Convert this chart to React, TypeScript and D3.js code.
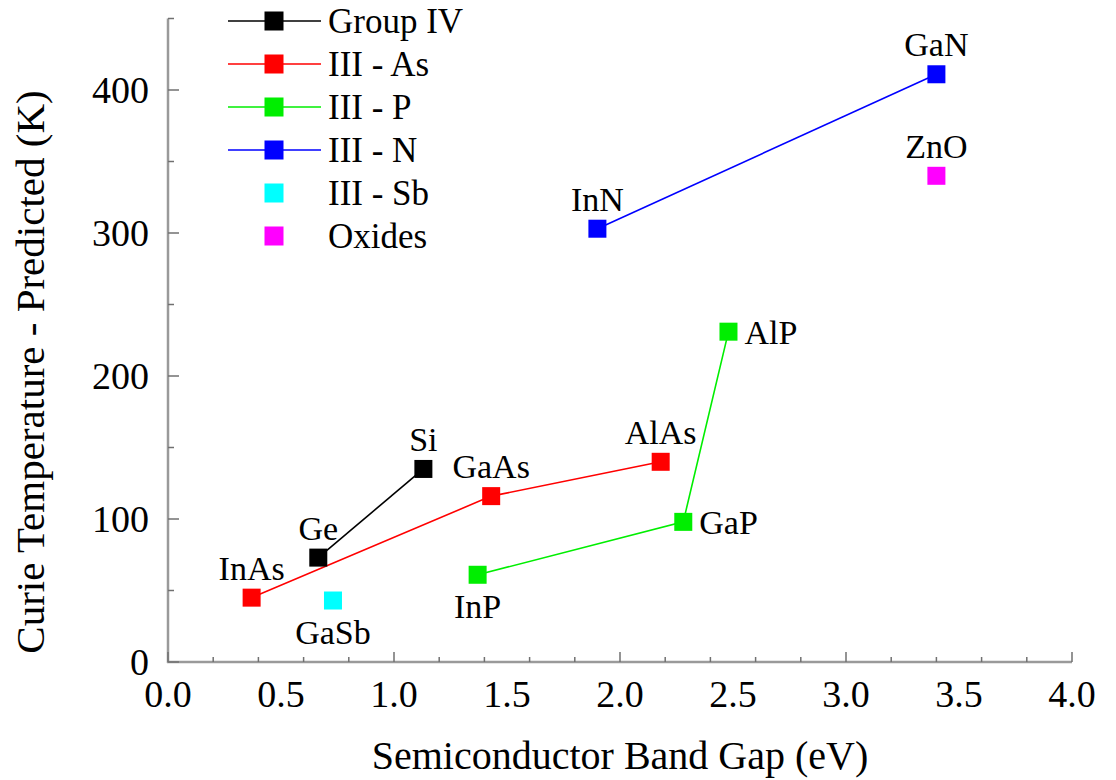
import React from "react";
import * as d3 from "d3";

// Band gap (eV) and predicted Curie temperature (K) per compound, grouped by family
const groupIVNames = ["Ge", "Si"];
const groupIVGap = [0.665, 1.13];
const groupIVTc = [73, 135];

const asNames = ["InAs", "GaAs", "AlAs"];
const asGap = [0.37, 1.43, 2.18];
const asTc = [45, 116, 140];

const pNames = ["InP", "GaP", "AlP"];
const pGap = [1.37, 2.28, 2.48];
const pTc = [61, 98, 231];

const nNames = ["InN", "GaN"];
const nGap = [1.9, 3.4];
const nTc = [303, 411];

const sbNames = ["GaSb"];
const sbGap = [0.73];
const sbTc = [43];

const oxNames = ["ZnO"];
const oxGap = [3.4];
const oxTc = [340];

const seriesNames = ["Group IV", "III - As", "III - P", "III - N", "III - Sb", "Oxides"];
const seriesColors = ["#000000", "#ff0000", "#00ee00", "#0000ff", "#00ffff", "#ff00ff"];
const seriesConnected = [true, true, true, true, false, false];

// where each compound's label sits relative to its marker
const labelSide: Record<string, string> = {
  Ge: "above",
  Si: "above",
  InAs: "above",
  GaAs: "above",
  AlAs: "above",
  InP: "below",
  GaP: "right",
  AlP: "right",
  InN: "above",
  GaN: "above",
  GaSb: "below",
  ZnO: "above",
};

const xDomain = [0, 4];
const yDomain = [0, 450];
const xTickLabels = ["0.0", "0.5", "1.0", "1.5", "2.0", "2.5", "3.0", "3.5", "4.0"];
const yTickLabels = ["0", "100", "200", "300", "400"];

export default function App() {
  const W = 1116;
  const H = 780;
  const x = d3.scaleLinear().domain(xDomain).range([168, 1072]);
  const y = d3.scaleLinear().domain(yDomain).range([662, 18.5]);

  const series = [
    { names: groupIVNames, gap: groupIVGap, tc: groupIVTc },
    { names: asNames, gap: asGap, tc: asTc },
    { names: pNames, gap: pGap, tc: pTc },
    { names: nNames, gap: nGap, tc: nTc },
    { names: sbNames, gap: sbGap, tc: sbTc },
    { names: oxNames, gap: oxGap, tc: oxTc },
  ].map((s, i) => ({
    name: seriesNames[i],
    color: seriesColors[i],
    connected: seriesConnected[i],
    pts: s.names.map((n, j) => ({ name: n, gap: s.gap[j], tc: s.tc[j] })),
  }));

  const line = d3
    .line<{ gap: number; tc: number }>()
    .x((d) => x(d.gap))
    .y((d) => y(d.tc));

  const axisColor = "#9a9a9a";
  const tickColor = "#707070";
  const x0 = x(xDomain[0]);
  const y0 = y(yDomain[0]);
  const ms = 18;
  const ts = { fontFamily: '"Times"' };

  return (
    <svg width={W} height={H} style={{ position: "absolute", left: 0, top: 0 }}>
      <rect width={W} height={H} fill="#ffffff" />
      {/* axes */}
      <line x1={x0} x2={x0} y1={y(yDomain[1])} y2={y0 + 1} stroke={axisColor} strokeWidth={2.5} />
      <line x1={x0 - 1} x2={x(xDomain[1])} y1={y0} y2={y0} stroke={axisColor} strokeWidth={2.5} />
      {y.ticks(9).map((t) => (
        <line
          key={"yt" + t}
          x1={x0}
          x2={x0 + (t % 100 === 0 ? 11 : 6)}
          y1={y(t)}
          y2={y(t)}
          stroke={tickColor}
          strokeWidth={1.5}
        />
      ))}
      {x.ticks(16).map((t) => (
        <line
          key={"xt" + t}
          x1={x(t)}
          x2={x(t)}
          y1={y0}
          y2={y0 - (Math.abs(t * 2 - Math.round(t * 2)) < 1e-6 ? 10 : 5)}
          stroke={tickColor}
          strokeWidth={1.5}
        />
      ))}
      {xTickLabels.map((lab) => (
        <text key={"xl" + lab} style={ts} x={x(+lab)} y={707} textAnchor="middle" fontSize={38}>
          {lab}
        </text>
      ))}
      {yTickLabels.map((lab) => (
        <text key={"yl" + lab} style={ts} x={149} y={y(+lab) + 13} textAnchor="end" fontSize={38}>
          {lab}
        </text>
      ))}
      <text style={ts} x={(x0 + x(xDomain[1])) / 2} y={769} textAnchor="middle" fontSize={40}>
        Semiconductor Band Gap (eV)
      </text>
      <text style={ts} transform="translate(44, 372) rotate(-90)" textAnchor="middle" fontSize={41}>
        Curie Temperature - Predicted (K)
      </text>

      {/* connecting lines */}
      {series
        .filter((s) => s.connected)
        .map((s) => (
          <path key={"ln" + s.name} d={line(s.pts) ?? ""} fill="none" stroke={s.color} strokeWidth={1.6} />
        ))}

      {/* markers and labels */}
      {series.map((s) =>
        s.pts.map((p) => {
          const cx = x(p.gap);
          const cy = y(p.tc);
          const side = labelSide[p.name];
          let lx = cx;
          let ly = cy - 18;
          let anchor: "middle" | "start" = "middle";
          if (side === "below") ly = cy + 43;
          if (side === "right") {
            lx = cx + 16;
            ly = cy + 12;
            anchor = "start";
          }
          return (
            <g key={"pt" + p.name}>
              <rect x={cx - ms / 2} y={cy - ms / 2} width={ms} height={ms} fill={s.color} />
              <text style={ts} x={lx} y={ly} textAnchor={anchor} fontSize={34}>
                {p.name}
              </text>
            </g>
          );
        })
      )}

      {/* legend */}
      {series.map((s, i) => {
        const ly = 21 + i * 43;
        return (
          <g key={"lg" + s.name}>
            {s.connected && <line x1={228} x2={321} y1={ly} y2={ly} stroke={s.color} strokeWidth={1.6} />}
            <rect x={264.5} y={ly - 9.5} width={19} height={19} fill={s.color} />
            <text style={ts} x={328} y={ly + 12} fontSize={35}>
              {s.name}
            </text>
          </g>
        );
      })}
    </svg>
  );
}
